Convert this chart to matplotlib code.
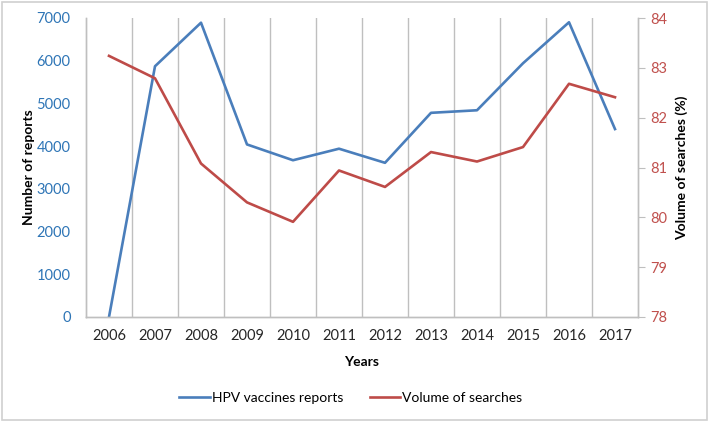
import matplotlib
matplotlib.use("Agg")
import matplotlib.pyplot as plt
from matplotlib.patches import Rectangle

years = ["2006", "2007", "2008", "2009", "2010", "2011", "2012", "2013", "2014", "2015", "2016", "2017"]
hpv_reports = [0, 5870, 6890, 4040, 3670, 3940, 3610, 4780, 4840, 5940, 6900, 4400]
search_volume = [83.24, 82.79, 81.08, 80.30, 79.91, 80.94, 80.61, 81.31, 81.12, 81.41, 82.68, 82.41]

plt.rcParams['font.family'] = ['Lato', 'DejaVu Sans']

BLUE_LINE = "#4A7EBB"
RED_LINE = "#BE4B48"
BLUE_TXT = "#2E75B6"
RED_TXT = "#C0504D"
GRID = "#BFBFBF"

fig = plt.figure(figsize=(7.09, 4.22), dpi=100)
ax = fig.add_axes([86/709, 1-317/422, (638-86)/709, (317-18)/422])
ax2 = ax.twinx()

x = list(range(len(years)))
l1, = ax.plot(x, hpv_reports, color=BLUE_LINE, lw=1.9, label="HPV vaccines reports")
l2, = ax2.plot(x, search_volume, color=RED_LINE, lw=1.9, label="Volume of searches")

ax.set_xlim(-0.5, len(years) - 0.5)
ax.set_ylim(0, 7000)
ax2.set_ylim(78, 84)
ax.set_yticks(range(0, 7001, 1000))
ax2.set_yticks(range(78, 85))
ax.set_xticks(x)
ax.set_xticklabels(years)
ax.set_xticks([i + 0.5 for i in range(len(years) - 1)], minor=True)
ax.grid(True, which='minor', axis='x', color=GRID, lw=1)
ax.tick_params(axis='x', which='both', length=0, labelsize=10.5, pad=9, colors='#262626')
ax.tick_params(axis='y', length=0, labelsize=10.5, labelcolor=BLUE_TXT, pad=11)
ax2.tick_params(axis='y', length=5, color=GRID, labelsize=10.5, labelcolor=RED_TXT, pad=4)

for a in (ax, ax2):
    for s in a.spines.values():
        s.set_color(GRID)
        s.set_linewidth(1)
    a.spines['top'].set_visible(False)

ax.set_xlabel("Years", fontsize=10, fontweight='bold', labelpad=9)
ax.set_ylabel("Number of reports", fontsize=10, fontweight='bold', labelpad=1)
ax2.set_ylabel("Volume of searches (%)", fontsize=10, fontweight='bold', labelpad=6)

fig.legend(handles=[l1, l2], loc='center', bbox_to_anchor=(351/709, 1-398/422), ncol=2,
           frameon=False, fontsize=10, handlelength=2.2, handletextpad=0.15, columnspacing=1.9)

fig.patches.append(Rectangle((2/709, 2/422), 705/709, 418/422, transform=fig.transFigure,
                             fill=False, edgecolor="#D0D0D0", lw=1.2))

fig.savefig("out.png", dpi=100)
